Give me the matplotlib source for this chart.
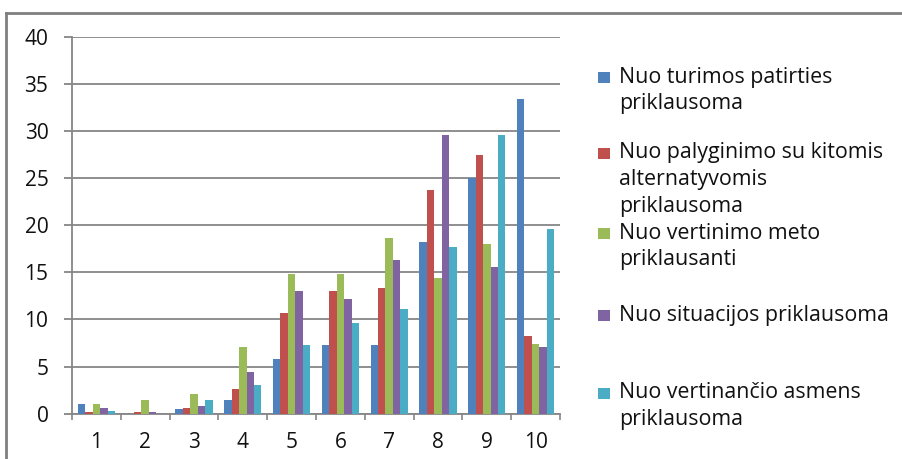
import numpy as np
import matplotlib.pyplot as plt
from matplotlib.lines import Line2D
from matplotlib.patches import Rectangle

plt.rcParams['font.family'] = ['Open Sans', 'DejaVu Sans']

categories = ['1', '2', '3', '4', '5', '6', '7', '8', '9', '10']
patirtis = [1.0, 0.0, 0.46, 1.42, 5.8, 7.29, 7.29, 18.2, 25.0, 33.4]
palyginimas = [0.15, 0.15, 0.57, 2.62, 10.65, 12.98, 13.3, 23.7, 27.4, 8.28]
metas = [1.0, 1.42, 2.06, 7.08, 14.82, 14.82, 18.6, 14.36, 18.0, 7.4]
situacija = [0.57, 0.15, 0.78, 4.42, 12.98, 12.14, 16.36, 29.55, 15.53, 7.08]
asmuo = [0.29, 0.0, 1.42, 3.01, 7.29, 9.66, 11.1, 17.67, 29.55, 19.6]

series = [patirtis, palyginimas, metas, situacija, asmuo]
legend_lines = [
    ['Nuo turimos patirties', 'priklausoma'],
    ['Nuo palyginimo su kitomis', 'alternatyvomis', 'priklausoma'],
    ['Nuo vertinimo meto', 'priklausanti'],
    ['Nuo situacijos priklausoma'],
    ['Nuo vertinančio asmens', 'priklausoma'],
]
colors = ['#4F81BD', '#C0504D', '#9BBB59', '#8064A2', '#4BACC6']
grey = '#868686'
ink = '#111111'

W, H = 903, 459
fig = plt.figure(figsize=(W / 100, H / 100), dpi=100)
ax = fig.add_axes([72 / W, 1 - 413.7 / H, (560 - 72) / W, (413.7 - 36.7) / H])

x = np.arange(len(categories))
w = 0.153
for j, vals in enumerate(series):
    ax.bar(x + (j - 2) * w, vals, width=w, color=colors[j], linewidth=0, zorder=3)

ax.set_xlim(-0.5, len(categories) - 0.5)
ax.set_ylim(0, 40)
ax.set_yticks(np.arange(0, 41, 5))
ax.yaxis.grid(True, color=grey, linewidth=1.3)
ax.set_axisbelow(True)

ax.set_xticks(x)
ax.set_xticklabels(categories)
ax.set_xticks(np.arange(-0.5, len(categories)), minor=True)
ax.tick_params(axis='x', which='major', length=0, pad=13, labelsize=15, colors=ink)
ax.tick_params(axis='x', which='minor', length=4, width=1.2, color=grey, direction='out')
ax.tick_params(axis='y', length=6, width=1.3, color=grey, pad=11, labelsize=15, labelcolor=ink)

for side in ('top', 'right'):
    ax.spines[side].set_visible(False)
for side in ('left', 'bottom'):
    ax.spines[side].set_color(grey)
    ax.spines[side].set_linewidth(1.3)

# legend drawn by hand to keep the uneven spacing of the entries
entry_tops = [77, 153, 233, 315, 393]
line_step = 26.5
for j, lines in enumerate(legend_lines):
    yc = entry_tops[j]
    fig.add_artist(Rectangle((598 / W, 1 - (yc + 5.5) / H), 12 / W, 11 / H,
                             transform=fig.transFigure, facecolor=colors[j],
                             edgecolor='none'))
    for k, line in enumerate(lines):
        fig.text(619 / W, 1 - (yc + k * line_step) / H, line, fontsize=15.4,
                 color=ink, va='center', ha='left')

# outer frame, cut at the right and bottom edges
fig.add_artist(Line2D([6.5 / W, 1], [1 - 12.5 / H] * 2, transform=fig.transFigure,
                      color='#7f7f7f', linewidth=2))
fig.add_artist(Line2D([6.5 / W] * 2, [0, 1 - 12.5 / H], transform=fig.transFigure,
                      color='#7f7f7f', linewidth=2))

fig.savefig('out.png', dpi=100)
